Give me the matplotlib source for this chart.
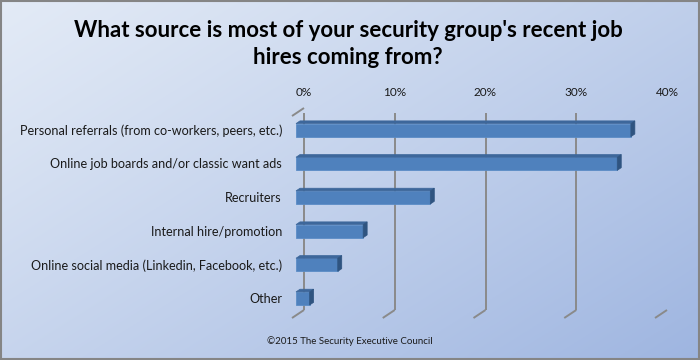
import matplotlib
matplotlib.use("Agg")
import matplotlib.pyplot as plt
import numpy as np
from matplotlib.patches import Polygon, Rectangle
from matplotlib.transforms import ScaledTranslation, IdentityTransform
from matplotlib.lines import Line2D

plt.rcParams["font.family"] = ["Lato", "DejaVu Sans"]

title = "What source is most of your security group's recent job\nhires coming from?"
categories = ["Personal referrals (from co-workers, peers, etc.)",
              "Online job boards and/or classic want ads",
              "Recruiters",
              "Internal hire/promotion",
              "Online social media (Linkedin, Facebook, etc.)",
              "Other"]
shares = [36.9, 35.4, 14.8, 7.4, 4.6, 1.5]
ticks = [0, 10, 20, 30, 40]
footer = "\u00a92015 The Security Executive Council"

DPI = 100
W, H = 700, 360
fig = plt.figure(figsize=(W / DPI, H / DPI), dpi=DPI)

# background gradient
bg = fig.add_axes([0, 0, 1, 1])
bg.axis("off")
yy, xx = np.mgrid[0:1:200j, 0:1:400j]
t = np.clip(0.55 * xx + 0.45 * yy, 0, 1)
c0 = np.array([0.89, 0.92, 0.965])
c1 = np.array([0.62, 0.71, 0.88])
img = c0 + (c1 - c0) * t[..., None] ** 1.1
bg.imshow(img, extent=[0, 1, 0, 1], origin="upper", aspect="auto")
bg.set_xlim(0, 1)
bg.set_ylim(0, 1)
bg.add_patch(Rectangle((0.001, 0.002), 0.997, 0.995, fill=False,
                       edgecolor="#858585", linewidth=1.5))

# main axes = plane of the bar front faces
left, right, top, bottom = 296, 659, 113.3, 315.3
ax = fig.add_axes([left / W, (H - bottom) / H, (right - left) / W, (bottom - top) / H])
ax.set_xlim(0, 40)
ax.set_ylim(5.5, -0.5)
ax.axis("off")
ax.patch.set_alpha(0)

px = lambda v: v / DPI
back = ax.transData + ScaledTranslation(px(8), px(5.3), fig.dpi_scale_trans)
front = ax.transData + ScaledTranslation(px(-4), px(-2.7), fig.dpi_scale_trans)
bar_back = ax.transData + ScaledTranslation(px(4), px(2.7), fig.dpi_scale_trans)

grid_kw = dict(color="#8a8a8a", linewidth=1.4, solid_capstyle="butt")


def dline(p, q, **kw):
    fig.add_artist(Line2D([p[0], q[0]], [p[1], q[1]], transform=IdentityTransform(), **kw))


# walls / gridlines
ymin, ymax = -0.5, 5.5
for tk in ticks:
    ax.plot([tk, tk], [ymin, ymax], transform=back, zorder=1, **grid_kw)
    dline(back.transform((tk, ymax)), front.transform((tk, ymax)), zorder=1, **grid_kw)
    ax.text(tk, ymin, f"{tk}%", transform=back + ScaledTranslation(0, px(16), fig.dpi_scale_trans),
            ha="center", va="center", fontsize=8.5, color="#1a1a1a")
ax.plot([0, 40], [ymin, ymin], transform=back, zorder=1, **grid_kw)
dline(back.transform((0, ymin)), front.transform((0, ymin)), zorder=1, **grid_kw)
ax.plot([0, 0], [ymin, ymax], transform=front, zorder=1, **grid_kw)

# bars
h = 0.39
front_c, top_c, side_c = "#4f81bd", "#3d679b", "#2f5480"
for i, v in enumerate(shares):
    y0, y1 = i - h / 2, i + h / 2
    ax.barh(i, v, height=h, color=front_c, edgecolor="#5b8cc6", linewidth=0.6, zorder=3)
    topf = [ax.transData.transform((0, y0)), ax.transData.transform((v, y0)),
            bar_back.transform((v, y0)), bar_back.transform((0, y0))]
    side = [ax.transData.transform((v, y0)), ax.transData.transform((v, y1)),
            bar_back.transform((v, y1)), bar_back.transform((v, y0))]
    fig.add_artist(Polygon(topf, closed=True, transform=IdentityTransform(),
                           facecolor=top_c, edgecolor=top_c, linewidth=0.5, zorder=4))
    fig.add_artist(Polygon(side, closed=True, transform=IdentityTransform(),
                           facecolor=side_c, edgecolor=side_c, linewidth=0.5, zorder=4))
    ax.text(0, i, categories[i], transform=ax.transData + ScaledTranslation(px(-14), px(-0.5), fig.dpi_scale_trans),
            ha="right", va="center", fontsize=9.1, color="#1a1a1a")

fig.text(0.497, 1 - 44 / H, title, ha="center", va="center", fontsize=16,
         fontweight="bold", color="black", linespacing=1.4)
fig.text(0.5, 1 - 341 / H, footer, ha="center", va="center", fontsize=7, color="#1a1a1a")

fig.savefig("out.png", dpi=DPI)
